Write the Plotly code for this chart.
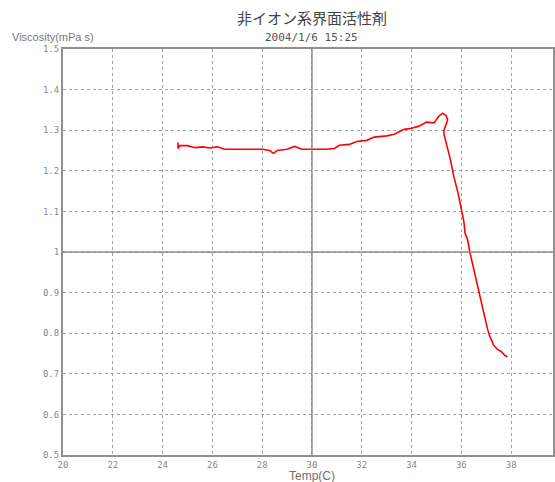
import plotly.graph_objects as go

temp = [24.62, 24.62, 24.7, 25.0, 25.3, 25.6, 25.9, 26.2, 26.5, 27.0, 27.5, 28.0, 28.3, 28.45,
        28.6, 29.0, 29.3, 29.6, 30.0, 30.5, 30.9, 31.1, 31.5, 31.8, 32.2, 32.5, 33.0, 33.3,
        33.7, 34.0, 34.3, 34.6, 34.9, 35.1, 35.25, 35.4, 35.45, 35.3, 35.3, 35.45, 35.55,
        35.7, 35.85, 36.0, 36.1, 36.15, 36.25, 36.35, 36.45, 36.6, 36.7, 36.8, 36.95, 37.05,
        37.15, 37.3, 37.45, 37.6, 37.75, 37.85]
visc = [1.270, 1.255, 1.262, 1.262, 1.257, 1.259, 1.256, 1.259, 1.253, 1.253, 1.253, 1.253,
        1.250, 1.243, 1.250, 1.253, 1.260, 1.253, 1.253, 1.253, 1.255, 1.263, 1.265, 1.272,
        1.275, 1.283, 1.286, 1.290, 1.302, 1.305, 1.310, 1.320, 1.318, 1.335, 1.342, 1.335,
        1.325, 1.300, 1.290, 1.255, 1.230, 1.185, 1.150, 1.105, 1.075, 1.046, 1.030, 0.997,
        0.970, 0.935, 0.906, 0.875, 0.840, 0.810, 0.791, 0.770, 0.760, 0.755, 0.745, 0.742]

x_ticks = [20, 22, 24, 26, 28, 30, 32, 34, 36, 38, 40]
y_ticks = [0.5, 0.6, 0.7, 0.8, 0.9, 1.0, 1.1, 1.2, 1.3, 1.4, 1.5]
y_tick_text = ["0.5", "0.6", "0.7", "0.8", "0.9", "1", "1.1", "1.2", "1.3", "1.4", "1.5"]

fig = go.Figure()
fig.add_trace(go.Scatter(x=temp, y=visc, mode="lines", line=dict(color="#ff0000", width=1.6),
                         showlegend=False))

fig.add_vline(x=30, line=dict(color="#8c8c8c", width=1.5))
fig.add_hline(y=1.0, line=dict(color="#8c8c8c", width=1.5))

tickfont = dict(family="DejaVu Sans Mono", size=9, color="#888888")
fig.update_xaxes(range=[20, 39.68], tickvals=x_ticks, showgrid=True, gridcolor="#a0a0a0",
                 griddash="3px,3px", gridwidth=1, showline=True, linecolor="#909090",
                 linewidth=2, mirror=True, ticks="", tickfont=tickfont, zeroline=False)
fig.update_yaxes(range=[0.5, 1.5], tickvals=y_ticks, ticktext=y_tick_text, showgrid=True,
                 gridcolor="#a0a0a0", griddash="3px,3px", gridwidth=1, showline=True,
                 linecolor="#909090", linewidth=2, mirror=True, ticks="", tickfont=tickfont,
                 zeroline=False)

fig.update_layout(
    width=555, height=482,
    margin=dict(l=63, r=0, t=49, b=27),
    paper_bgcolor="white", plot_bgcolor="white",
)
H = 482 - 49 - 27
W = 555 - 63
fig.add_annotation(text="非イオン系界面活性剤", xref="paper", yref="paper",
                   x=(313 - 63) / W, y=(455 - 18) / H, xanchor="center", yanchor="middle",
                   showarrow=False, font=dict(family="Noto Sans CJK JP", size=15, color="#444444"))
fig.add_annotation(text="2004/1/6 15:25", xref="paper", yref="paper",
                   x=(313 - 63) / W, y=(455 - 37) / H, xanchor="center", yanchor="middle",
                   showarrow=False, font=dict(family="DejaVu Sans Mono", size=11, color="#555555"))
fig.add_annotation(text="Viscosity(mPa s)", xref="paper", yref="paper",
                   x=(10 - 63) / W, y=(455 - 37) / H, xanchor="left", yanchor="middle",
                   showarrow=False, font=dict(family="Liberation Sans", size=11, color="#777777"))
fig.add_annotation(text="Temp(C)", xref="paper", yref="paper",
                   x=(313 - 63) / W, y=(455 - 476) / H, xanchor="center", yanchor="middle",
                   showarrow=False, font=dict(family="Liberation Sans", size=12, color="#707070"))

fig.write_html("out.html")
